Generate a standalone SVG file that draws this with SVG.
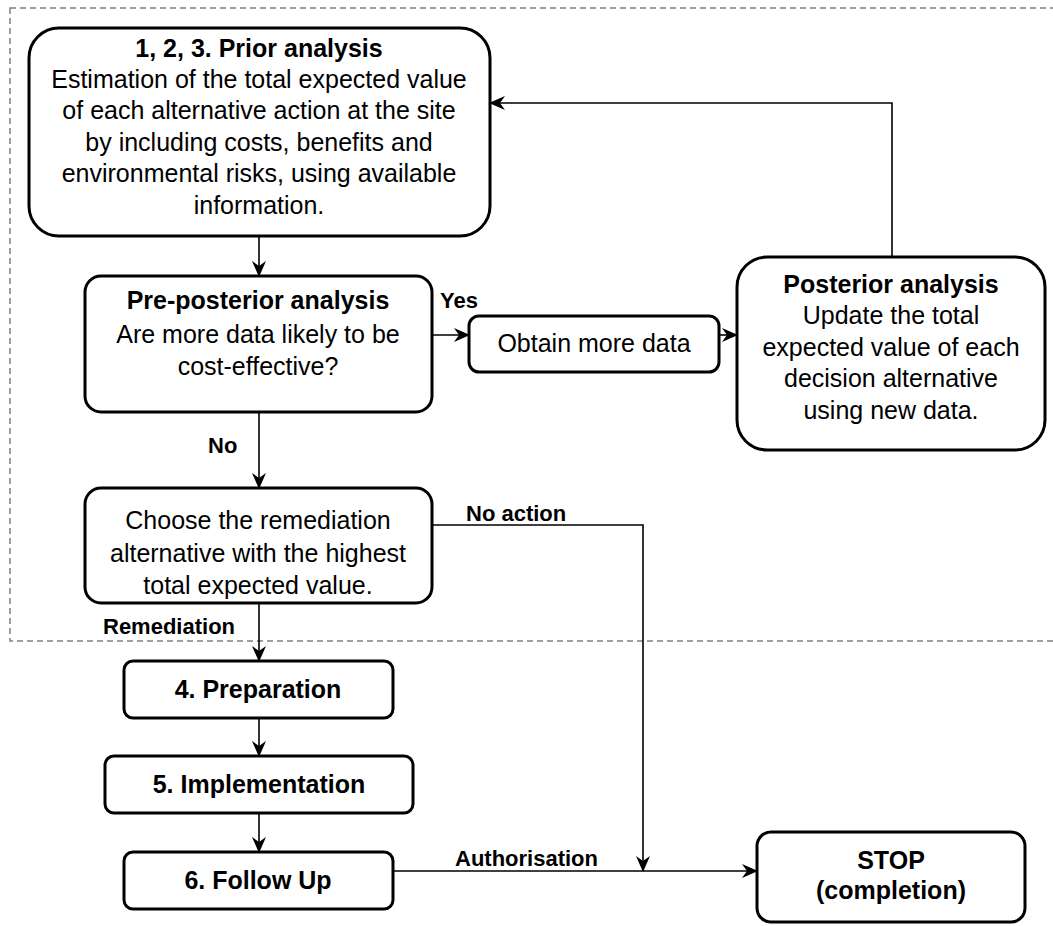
<svg xmlns="http://www.w3.org/2000/svg" width="1053" height="926" viewBox="0 0 1053 926">
  <style>
    .box { fill: #ffffff; stroke: #000000; stroke-width: 3; }
    .t { font-family: "Liberation Sans", Arial, sans-serif; font-size: 25px; fill: #000; text-anchor: middle; }
    .b { font-weight: bold; }
    .lbl { font-family: "Liberation Sans", Arial, sans-serif; font-size: 22px; font-weight: bold; fill: #000; }
    .edge { fill: none; stroke: #000; stroke-width: 1.6; marker-end: url(#arrow); }
    .frame { fill: none; stroke: #808080; stroke-width: 1.5; stroke-dasharray: 6 4; }
  </style>
  <defs>
    <marker id="arrow" viewBox="0 0 16 14" refX="15" refY="7" markerWidth="16" markerHeight="14" markerUnits="userSpaceOnUse" orient="auto">
      <path d="M0,0 L16,7 L0,14 L5,7 Z" fill="#000"/>
    </marker>
  </defs>
  <rect width="1053" height="926" fill="#ffffff"/>

  <!-- decision-analysis region -->
  <rect id="analysis-frame" class="frame" x="10" y="8" width="1060" height="633"/>

  <g id="connectors">
    <path class="edge" d="M259,237 L259,276"/>
    <path class="edge" d="M432,335 L469,335"/>
    <path class="edge" d="M719,335 L737,335"/>
    <path class="edge" d="M892,257 L892,103 L490,103"/>
    <path class="edge" d="M259,412 L259,488"/>
    <path class="edge" d="M432,525 L643,525 L643,871"/>
    <path class="edge" d="M259,603 L259,661"/>
    <path class="edge" d="M259,718 L259,756"/>
    <path class="edge" d="M259,813 L259,852"/>
    <path class="edge" d="M393,871 L757,871"/>
    <text class="lbl" x="440" y="308">Yes</text>
    <text class="lbl" x="208" y="453">No</text>
    <text class="lbl" x="466" y="521">No action</text>
    <text class="lbl" x="103" y="634">Remediation</text>
    <text class="lbl" x="455" y="866">Authorisation</text>
  </g>

  <g id="prior-analysis">
    <rect class="box" x="29" y="28" width="461" height="208" rx="30"/>
    <text class="t b" x="259" y="57">1, 2, 3. Prior analysis</text>
    <text class="t" x="259" y="88">Estimation of the total expected value</text>
    <text class="t" x="259" y="119">of each alternative action at the site</text>
    <text class="t" x="259" y="151">by including costs, benefits and</text>
    <text class="t" x="259" y="182">environmental risks, using available</text>
    <text class="t" x="259" y="214">information.</text>
  </g>

  <g id="pre-posterior">
    <rect class="box" x="85" y="276" width="347" height="136" rx="16"/>
    <text class="t b" x="258" y="309">Pre-posterior analysis</text>
    <text class="t" x="258" y="343">Are more data likely to be</text>
    <text class="t" x="258" y="375">cost-effective?</text>
  </g>

  <g id="obtain-data">
    <rect class="box" x="469" y="316" width="250" height="56" rx="10"/>
    <text class="t" x="594" y="352">Obtain more data</text>
  </g>

  <g id="posterior">
    <rect class="box" x="737" y="257" width="308" height="193" rx="30"/>
    <text class="t b" x="891" y="293">Posterior analysis</text>
    <text class="t" x="891" y="324">Update the total</text>
    <text class="t" x="891" y="356">expected value of each</text>
    <text class="t" x="891" y="387">decision alternative</text>
    <text class="t" x="891" y="419">using new data.</text>
  </g>

  <g id="choose">
    <rect class="box" x="85" y="488" width="347" height="115" rx="16"/>
    <text class="t" x="258" y="529">Choose the remediation</text>
    <text class="t" x="258" y="562">alternative with the highest</text>
    <text class="t" x="258" y="594">total expected value.</text>
  </g>

  <g id="preparation">
    <rect class="box" x="124" y="661" width="269" height="57" rx="9"/>
    <text class="t b" x="258" y="698">4. Preparation</text>
  </g>

  <g id="implementation">
    <rect class="box" x="105" y="756" width="308" height="57" rx="9"/>
    <text class="t b" x="259" y="793">5. Implementation</text>
  </g>

  <g id="follow-up">
    <rect class="box" x="124" y="852" width="269" height="57" rx="9"/>
    <text class="t b" x="258" y="889">6. Follow Up</text>
  </g>

  <g id="stop">
    <rect class="box" x="757" y="832" width="268" height="90" rx="14"/>
    <text class="t b" x="891" y="869">STOP</text>
    <text class="t b" x="891" y="899">(completion)</text>
  </g>
</svg>
